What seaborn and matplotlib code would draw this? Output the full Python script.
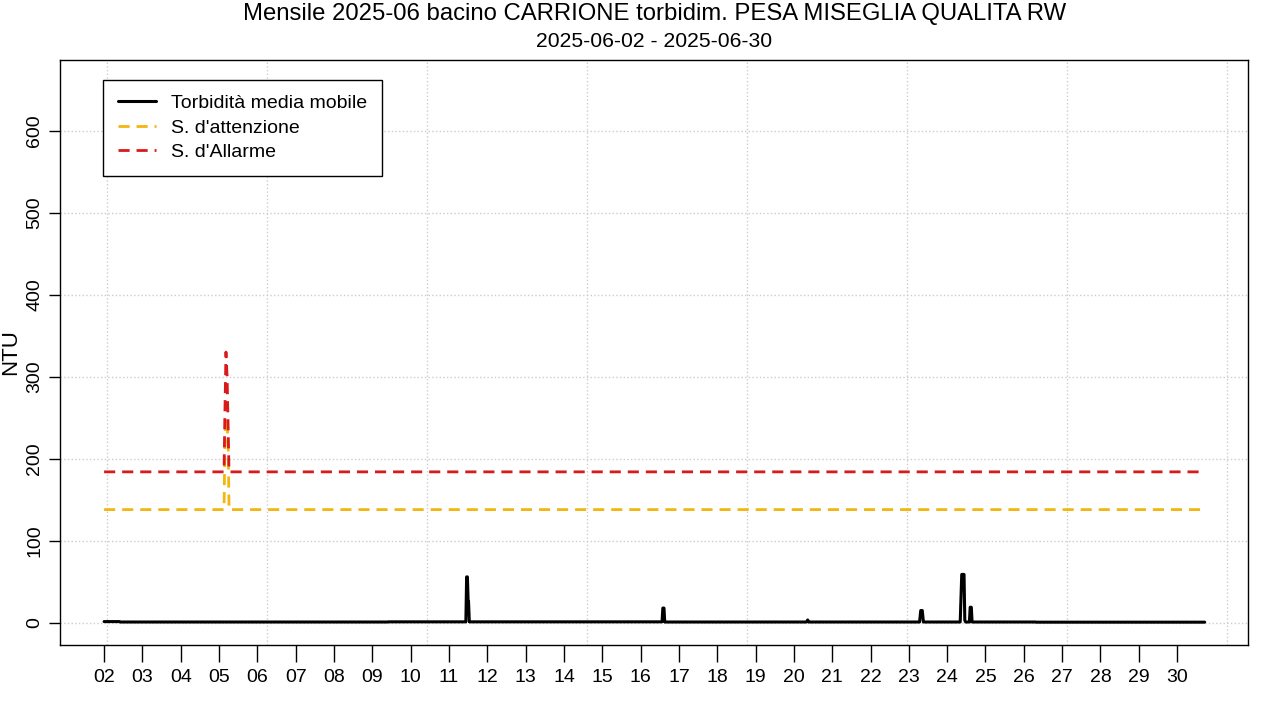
import pandas as pd
import numpy as np
import matplotlib.pyplot as plt
import seaborn as sns

# --- DATA ---
# days of June 2025 (fractional)
turb_day = [2.00, 2.40, 2.42, 9.40, 9.42, 11.44, 11.46, 11.48, 11.50, 11.51, 11.53,
            16.56, 16.58, 16.61, 16.63, 20.33, 20.36, 20.39,
            23.28, 23.31, 23.35, 23.38, 24.34, 24.36, 24.38, 24.44, 24.46, 24.48,
            24.58, 24.60, 24.63, 24.65, 26.30, 26.32, 30.72]
turb_val = [1.5, 1.5, 1.0, 1.0, 1.2, 1.2, 56, 56, 26, 26, 1.2,
            1.2, 18, 18, 1.0, 1.0, 3.5, 1.0,
            1.0, 15, 15, 1.0, 1.0, 30, 59, 59, 3, 1.0,
            1.0, 19, 19, 1.0, 1.0, 0.8, 0.8]

thr_day = [2.00, 5.13, 5.15, 5.18, 5.21, 5.24, 5.26, 30.72]
att_val = [138, 138, 215, 250, 245, 210, 138, 138]
all_val = [184, 184, 250, 330, 300, 230, 184, 184]

day_ticks = list(range(2, 31))
day_labels = [f"{d:02d}" for d in day_ticks]

title = "Mensile 2025-06 bacino CARRIONE torbidim. PESA MISEGLIA QUALITA RW"
subtitle = "2025-06-02 - 2025-06-30"

turb = pd.DataFrame({'day': turb_day, 'NTU': turb_val})
thr = pd.DataFrame({'day': thr_day, 'att': att_val, 'all': all_val})

# --- PLOT ---
sns.set_style('white')
plt.rcParams['font.family'] = ['Liberation Sans', 'DejaVu Sans']
plt.rcParams['text.color'] = 'black'
plt.rcParams['axes.labelcolor'] = 'black'
plt.rcParams['xtick.color'] = 'black'
plt.rcParams['ytick.color'] = 'black'

fig = plt.figure(figsize=(12.8, 7.2), dpi=100)
ax = fig.add_axes([0.0469, 0.1042, 0.9281, 0.8125])

sns.lineplot(data=turb, x='day', y='NTU', ax=ax, color='black', lw=2.2,
             sort=False, estimator=None, label='Torbidità media mobile')
sns.lineplot(data=thr, x='day', y='att', ax=ax, color='#F2B611', lw=2,
             sort=False, estimator=None, label="S. d'attenzione", dashes=False)
sns.lineplot(data=thr, x='day', y='all', ax=ax, color='#D91A1A', lw=2,
             sort=False, estimator=None, label="S. d'Allarme", dashes=False)
for ln in ax.lines[1:]:
    ln.set_dashes((4, 2.5))

ax.set_xlim(0.85, 31.85)
ax.set_ylim(-27, 686)

# grid like R's grid()
for gx in np.arange(2.08, 31.5, 4.175):
    ax.axvline(gx, color='#cccccc', lw=1, ls=':', zorder=0)
for gy in range(0, 700, 100):
    ax.axhline(gy, color='#cccccc', lw=1, ls=':', zorder=0)

ax.set_xticks(day_ticks)
ax.set_xticklabels(day_labels, fontsize=14)
ax.set_yticks(range(0, 700, 100))
ax.set_yticklabels([str(v) for v in range(0, 700, 100)], fontsize=14,
                   rotation=90, va='center')
ax.tick_params(axis='x', direction='out', length=12, width=1, pad=5, bottom=True)
ax.tick_params(axis='y', direction='out', length=8, width=1, pad=4, left=True)
for s in ax.spines.values():
    s.set_color('black')
    s.set_linewidth(1)

ax.set_xlabel('')
ax.set_ylabel('NTU', fontsize=16, labelpad=4)

fig.text(0.511, 0.980, title, ha='center', va='center', fontsize=17.2)
fig.text(0.511, 0.943, subtitle, ha='center', va='center', fontsize=15.2)

leg = ax.legend(loc='upper left', bbox_to_anchor=(0.0362, 0.9658), fontsize=14,
                frameon=True, fancybox=False, handlelength=1.95,
                borderpad=0.75, labelspacing=0.35, handletextpad=0.8,
                borderaxespad=0)
leg.get_frame().set_edgecolor('black')
leg.get_frame().set_linewidth(1)
leg.get_frame().set_alpha(1)

fig.savefig('out.png', dpi=100)
